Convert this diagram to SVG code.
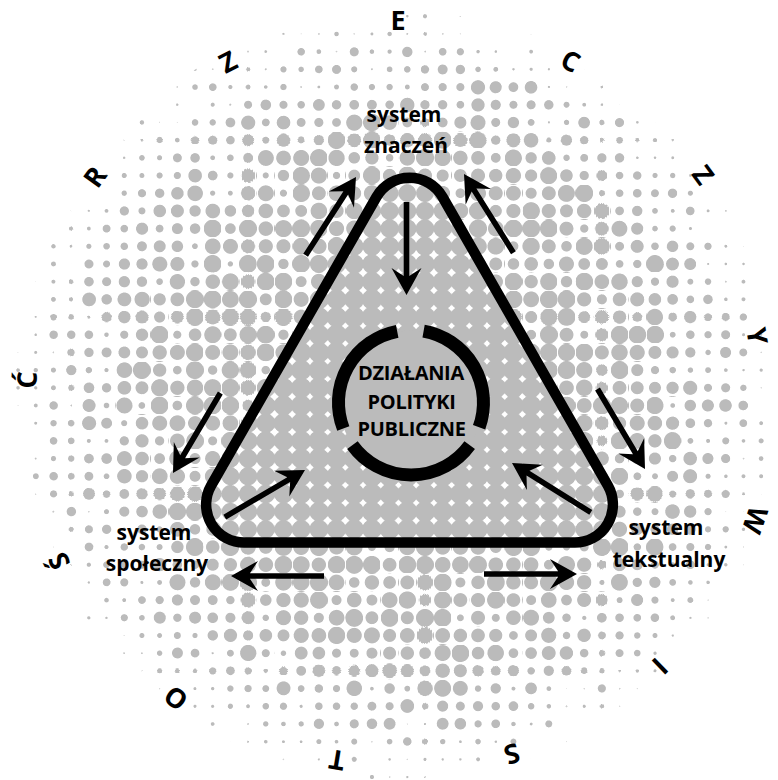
<svg xmlns="http://www.w3.org/2000/svg" xmlns:xlink="http://www.w3.org/1999/xlink" width="778" height="780" viewBox="0 0 778 780">
<style>
.t{font-family:"Open Sans","Noto Sans","DejaVu Sans",sans-serif;font-weight:700;fill:#000;text-anchor:middle}
.lbl{font-size:21px}
.core{font-size:20px;letter-spacing:-0.3px}
.ltr{font-size:27px}
.tri{fill:none;stroke:#000;stroke-width:10.5;stroke-linejoin:round}
.ring{fill:none;stroke:#000;stroke-width:13}
</style>
<defs>
<linearGradient id="gsx" x1="0" y1="0" x2="1" y2="0"><stop offset="0" stop-color="#ff0000"/><stop offset="1" stop-color="#000000"/></linearGradient>
<linearGradient id="gsy" x1="0" y1="0" x2="0" y2="1"><stop offset="0" stop-color="#00ff00"/><stop offset="1" stop-color="#000000"/></linearGradient>
<radialGradient id="gcell" cx="0.5" cy="0.5" r="0.7071" fx="0.5" fy="0.5"><stop offset="0" stop-color="#000000"/><stop offset="1" stop-color="#ff0000"/></radialGradient>
<pattern id="psx" patternUnits="userSpaceOnUse" x="-8.65" y="-10.45" width="17.7" height="17.7"><rect width="17.7" height="17.7" fill="url(#gsx)"/></pattern>
<pattern id="psy" patternUnits="userSpaceOnUse" x="-8.65" y="-10.45" width="17.7" height="17.7"><rect width="17.7" height="17.7" fill="url(#gsy)"/></pattern>
<pattern id="pcell" patternUnits="userSpaceOnUse" x="-8.65" y="-10.45" width="17.7" height="17.7"><rect width="17.7" height="17.7" fill="url(#gcell)"/></pattern>
<radialGradient id="gdens" gradientUnits="userSpaceOnUse" cx="399" cy="396" r="385">
<stop offset="0" stop-color="#00bd00"/>
<stop offset="0.26" stop-color="#00b300"/>
<stop offset="0.52" stop-color="#00a100"/>
<stop offset="0.675" stop-color="#008200"/>
<stop offset="0.78" stop-color="#006300"/>
<stop offset="0.883" stop-color="#003b00"/>
<stop offset="0.95" stop-color="#001a00"/>
<stop offset="1" stop-color="#000000"/>
</radialGradient>
<radialGradient id="gtri" gradientUnits="userSpaceOnUse" cx="411" cy="403" r="220">
<stop offset="0" stop-color="#00d400"/>
<stop offset="0.45" stop-color="#00d100"/>
<stop offset="0.75" stop-color="#00bd00"/>
<stop offset="1" stop-color="#00b000"/>
</radialGradient>
<radialGradient id="gnm" gradientUnits="userSpaceOnUse" cx="399" cy="396" r="385">
<stop offset="0" stop-color="#ffffff"/>
<stop offset="0.6" stop-color="#ffffff"/>
<stop offset="0.85" stop-color="#bbbbbb"/>
<stop offset="1" stop-color="#777777"/>
</radialGradient>
<path id="trip" d="M376.5 196.9 A38 38 0 0 1 442.5 196.9 L607.9 485.7 A38 38 0 0 1 575 542.5 L244 542.5 A38 38 0 0 1 211.1 485.7 Z"/>
<mask id="mnoise" maskUnits="userSpaceOnUse" x="0" y="0" width="778" height="780">
<rect width="778" height="780" fill="url(#gnm)"/>
</mask>
<clipPath id="disc"><circle cx="399" cy="396" r="385"/></clipPath>
<clipPath id="triclip"><use xlink:href="#trip" href="#trip"/></clipPath>
<filter id="fnoise" filterUnits="userSpaceOnUse" x="0" y="0" width="778" height="780" color-interpolation-filters="sRGB">
<feTurbulence type="fractalNoise" baseFrequency="0.085" numOctaves="1" seed="11" result="t"/>
<feColorMatrix in="t" type="matrix" values="0 0 0 0 0  0 0 0 0 0  1 0 0 0 0  0 0 0 0 1" result="n"/>
<feDisplacementMap in="n" in2="SourceGraphic" scale="17.7" xChannelSelector="R" yChannelSelector="G"/>
</filter>
<filter id="fht" filterUnits="userSpaceOnUse" x="0" y="0" width="778" height="780" color-interpolation-filters="sRGB">
<feColorMatrix type="matrix" values="1 0 0 0 0  0 1.408 1.831 0 -0.9155  0 0 0 0 0  0 0 0 0 1" result="s"/>
<feColorMatrix in="s" type="matrix" values="0 0 0 0 0.733  0 0 0 0 0.733  0 0 0 0 0.733  -14 9.94 0 0 0.5"/>
</filter>
<filter id="fht2" filterUnits="userSpaceOnUse" x="0" y="0" width="778" height="780" color-interpolation-filters="sRGB">
<feColorMatrix type="matrix" values="0 0 0 0 0.733  0 0 0 0 0.733  0 0 0 0 0.733  -14 14 0 0 0.5"/>
</filter>
<path id="arr" d="M0 0 L-27 -15 L-18.9 -2.8 L-93 -2.8 L-93 2.8 L-18.9 2.8 L-27 15 Z"/>
</defs>
<rect width="778" height="780" fill="#fff"/>
<g id="halftone" clip-path="url(#disc)">
<g filter="url(#fht)">
<rect width="778" height="780" fill="#000080"/>
<g filter="url(#fnoise)" mask="url(#mnoise)">
<rect width="778" height="780" fill="url(#psx)"/>
<rect width="778" height="780" fill="url(#psy)" style="mix-blend-mode:screen"/>
</g>
<rect width="778" height="780" fill="url(#pcell)" style="mix-blend-mode:screen"/>
<rect width="778" height="780" fill="url(#gdens)" style="mix-blend-mode:screen"/>
</g>
</g>
<g id="triangle-fill">
<use xlink:href="#trip" href="#trip" fill="#fff"/>
<g clip-path="url(#triclip)">
<g filter="url(#fht2)">
<rect width="778" height="780" fill="url(#pcell)"/>
<rect width="778" height="780" fill="url(#gtri)" style="mix-blend-mode:screen"/>
</g>
</g>
</g>
<g id="core">
<circle cx="411" cy="402.5" r="72" fill="#bbbbbb"/>
<path class="ring" d="M423.6 331.1 A72.5 72.5 0 0 1 479.1 427.3"/>
<path class="ring" d="M469.7 445.1 A72.5 72.5 0 0 1 352.4 445.1"/>
<path class="ring" d="M343.3 428.5 A72.5 72.5 0 0 1 397.2 331.3"/>
<text class="t core" x="411" y="380">DZIAŁANIA</text>
<text class="t core" x="411.5" y="408.5">POLITYKI</text>
<text class="t core" x="411.5" y="436">PUBLICZNE</text>
</g>
<g id="triangle">
<use xlink:href="#trip" href="#trip" class="tri"/>
</g>
<g id="connectors" fill="#000">
<use xlink:href="#arr" href="#arr" transform="translate(356 177) rotate(-57.2)"/>
<use xlink:href="#arr" href="#arr" transform="translate(464 174) rotate(-122.1)"/>
<use xlink:href="#arr" href="#arr" transform="translate(406.5 295) rotate(90)"/>
<use xlink:href="#arr" href="#arr" transform="translate(173 473) rotate(120.6)"/>
<use xlink:href="#arr" href="#arr" transform="translate(305 470) rotate(-30.4)"/>
<use xlink:href="#arr" href="#arr" transform="translate(231 576) rotate(180)"/>
<use xlink:href="#arr" href="#arr" transform="translate(577 574) rotate(0)"/>
<use xlink:href="#arr" href="#arr" transform="translate(512 463) rotate(-147.9)"/>
<use xlink:href="#arr" href="#arr" transform="translate(645 469) rotate(59.3)"/>
</g>
<g id="system-znaczen">
<text class="t lbl" x="404" y="122">system</text>
<text class="t lbl" x="406" y="153">znaczeń</text>
</g>
<g id="system-spoleczny">
<text class="t lbl" x="154" y="540">system</text>
<text class="t lbl" x="157" y="571">społeczny</text>
</g>
<g id="system-tekstualny">
<text class="t lbl" x="666" y="535">system</text>
<text class="t lbl" x="669" y="567">tekstualny</text>
</g>
<g id="rzeczywistosc">
<text class="t ltr" transform="translate(95 177) rotate(-54.3)" y="9.6">R</text>
<text class="t ltr" transform="translate(228 62) rotate(-27.1)" y="9.6">Z</text>
<text class="t ltr" transform="translate(398 20)" y="9.6">E</text>
<text class="t ltr" transform="translate(570.5 61) rotate(27.1)" y="9.6">C</text>
<text class="t ltr" transform="translate(703 175) rotate(54)" y="9.6">Z</text>
<text class="t ltr" transform="translate(757 336) rotate(80.9)" y="9.6">Y</text>
<text class="t ltr" transform="translate(755 520) rotate(109.3)" y="9.6">W</text>
<text class="t ltr" transform="translate(660 666) rotate(136)" y="9.6">I</text>
<text class="t ltr" transform="translate(512 754) rotate(162.5)" y="9.6">S</text>
<text class="t ltr" transform="translate(337 760) rotate(189.5)" y="9.6">T</text>
<text class="t ltr" transform="translate(176 698) rotate(216.4)" y="9.6">O</text>
<text class="t ltr" transform="translate(59 561) rotate(244)" y="9.6">Ś</text>
<text class="t ltr" transform="translate(27 380) rotate(272.4)" y="9.6">Ć</text>
</g>
</svg>
